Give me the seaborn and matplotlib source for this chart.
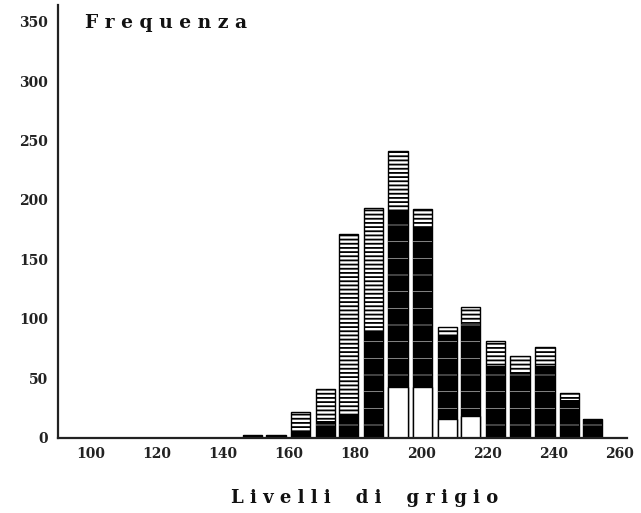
import matplotlib
matplotlib.use("Agg")
import matplotlib.pyplot as plt
import seaborn as sns
import pandas as pd

# Data (grey-level histogram)
livelli = [149, 156, 163.5, 171, 178, 185.5, 193, 200.5, 208, 215, 222.5, 230, 237.5, 245, 252]
frequenza = [2, 2, 22, 41, 171, 193, 241, 192, 93, 110, 81, 69, 76, 38, 16]
# texture of the scanned bars: top of the dark (black) band and height of the white base
banda_scura = [2, 2, 5, 14, 20, 90, 191, 177, 86, 96, 60, 55, 60, 32, 16]
base_chiara = [0, 0, 0, 0, 0, 0, 43, 43, 16, 18, 0, 0, 0, 0, 0]

x_ticks = [100, 120, 140, 160, 180, 200, 220, 240, 260]
y_ticks = [0, 50, 100, 150, 200, 250, 300, 350]

df = pd.DataFrame({"livello": livelli, "freq": frequenza,
                   "scura": banda_scura, "base": base_chiara})

sns.set_style("white")
plt.rcParams["font.family"] = ["DejaVu Serif"]

fig = plt.figure(figsize=(6.41, 5.13), dpi=100)
ax = fig.add_axes([0.0905, 0.1468, 0.8877, 0.8435])

W = 0.84
with plt.rc_context({"hatch.linewidth": 1.3}):
    sns.barplot(data=df, x="livello", y="freq", native_scale=True, ax=ax,
                color="white", saturation=1, errorbar=None, width=W,
                edgecolor="black", linewidth=1.0, hatch="----")
with plt.rc_context({"hatch.linewidth": 0.5}):
    sns.barplot(data=df, x="livello", y="scura", native_scale=True, ax=ax,
                color="black", saturation=1, errorbar=None, width=W,
                edgecolor="#bbbbbb", linewidth=0, hatch="-")
sns.barplot(data=df, x="livello", y="base", native_scale=True, ax=ax,
            color="white", saturation=1, errorbar=None, width=W,
            edgecolor="black", linewidth=1.0)

ax.set_xlim(90, 262.4)
ax.set_ylim(0, 364)
ax.set_xticks(x_ticks)
ax.set_yticks(y_ticks)
ax.set_xlabel("")
ax.set_ylabel("")

for side in ["top", "right"]:
    ax.spines[side].set_visible(False)
for side in ["left", "bottom"]:
    ax.spines[side].set_linewidth(1.6)
    ax.spines[side].set_color("#222222")

ax.tick_params(axis="both", direction="in", length=4, width=1.4, color="#222222",
               labelsize=10, labelcolor="#222222")
ax.tick_params(axis="y", pad=7)
ax.tick_params(axis="x", pad=7)
for lab in ax.get_xticklabels() + ax.get_yticklabels():
    lab.set_fontweight("bold")

fig.text(85 / 641, 1 - 28 / 513, "F r e q u e n z a", fontsize=13.5, fontweight="bold",
         ha="left", va="baseline", color="#111111")
fig.text(365 / 641, 1 - 503 / 513, "L i v e l l i    d i    g r i g i o", fontsize=13,
         fontweight="bold", ha="center", va="baseline", color="#111111")

fig.savefig("out.png", dpi=100)
